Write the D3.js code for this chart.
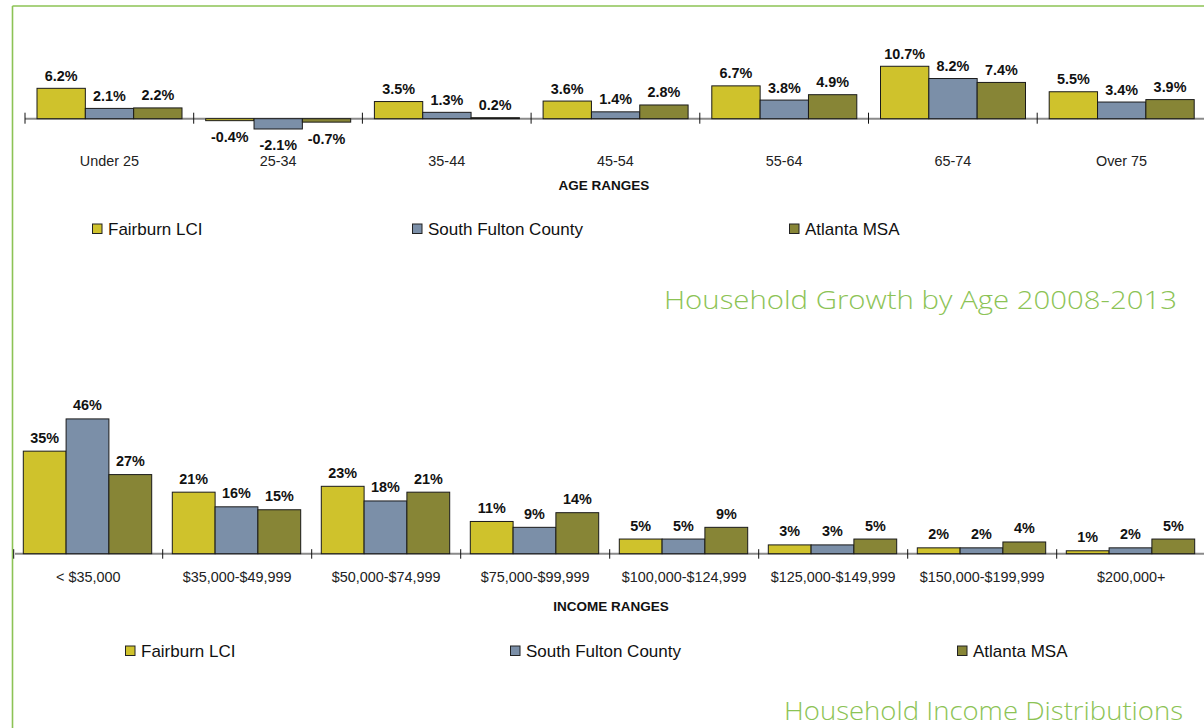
<!DOCTYPE html>
<html>
<head>
<meta charset="utf-8">
<script src="https://cdn.jsdelivr.net/npm/d3@7"></script>
<style>
  html, body { margin: 0; padding: 0; background: #ffffff; }
  svg { display: block; }
</style>
</head>
<body>
<svg id="chart" width="1204" height="728"></svg>
<script>
// ---- Data ----
const seriesNames = ["Fairburn LCI", "South Fulton County", "Atlanta MSA"];
const seriesColors = ["#CFC22C", "#7B8FA8", "#878536"];

const ageCategories = ["Under 25", "25-34", "35-44", "45-54", "55-64", "65-74", "Over 75"];
const ageFairburn    = [6.2, -0.4, 3.5, 3.6, 6.7, 10.7, 5.5];
const ageSouthFulton = [2.1, -2.1, 1.3, 1.4, 3.8, 8.2, 3.4];
const ageAtlanta     = [2.2, -0.7, 0.2, 2.8, 4.9, 7.4, 3.9];

const incomeCategories = ["< $35,000", "$35,000-$49,999", "$50,000-$74,999", "$75,000-$99,999",
  "$100,000-$124,999", "$125,000-$149,999", "$150,000-$199,999", "$200,000+"];
const incomeFairburn    = [35, 21, 23, 11, 5, 3, 2, 1];
const incomeSouthFulton = [46, 16, 18, 9, 5, 3, 2, 2];
const incomeAtlanta     = [27, 15, 21, 14, 9, 5, 4, 5];

const ageTitle = "Household Growth by Age 20008-2013";
const incomeTitle = "Household Income Distributions";

const svg = d3.select("#chart");
const labelFont = "'Liberation Sans', Arial, sans-serif";
const green = "#8CC355";

// Frame lines along top and left edges
svg.append("line").attr("x1", 12.5).attr("x2", 1204).attr("y1", 6).attr("y2", 6)
  .attr("stroke", green).attr("stroke-width", 1.6);
svg.append("line").attr("x1", 12.5).attr("x2", 12.5).attr("y1", 6).attr("y2", 728)
  .attr("stroke", green).attr("stroke-width", 1.6);

function drawGroupedBars(cfg) {
  const g = svg.append("g");
  const rows = cfg.categories.map((c, i) => ({
    cat: c,
    vals: cfg.series.map((s, j) => ({ key: seriesNames[j], idx: j, v: s[i] }))
  }));

  const x0 = d3.scaleBand().domain(cfg.categories).range(cfg.xRange).padding(0);
  const x1 = d3.scaleBand().domain(seriesNames).range(cfg.innerRange).padding(0);
  const y = d3.scaleLinear().domain(cfg.yDomain).range(cfg.yRange);
  const y0 = y(0);

  // Category axis line with ticks between groups
  g.append("line")
    .attr("x1", cfg.axisStart).attr("x2", 1204)
    .attr("y1", y0).attr("y2", y0)
    .attr("stroke", "#8a8a8a").attr("stroke-width", 2);

  const tickPos = cfg.categories.map(c => x0(c)).concat([x0.range()[1]]);
  g.selectAll(".tick").data(tickPos).join("line")
    .attr("x1", d => d).attr("x2", d => d)
    .attr("y1", y0 + cfg.tickUp).attr("y2", y0 + cfg.tickDown)
    .attr("stroke", "#111").attr("stroke-width", 1);

  const groups = g.selectAll(".grp").data(rows).join("g")
    .attr("transform", d => `translate(${x0(d.cat)},0)`);

  groups.selectAll("rect").data(d => d.vals).join("rect")
    .attr("x", d => x1(d.key))
    .attr("width", x1.bandwidth())
    .attr("y", d => Math.min(y(d.v), y0))
    .attr("height", d => Math.abs(y(d.v) - y0))
    .attr("fill", d => seriesColors[d.idx])
    .attr("stroke", "#1a1a1a").attr("stroke-width", 1);

  groups.selectAll("text.val").data(d => d.vals).join("text")
    .attr("class", "val")
    .attr("x", d => x1(d.key) + x1.bandwidth() / 2)
    .attr("y", d => d.v >= 0 ? y(d.v) - cfg.labelAbove : y(d.v) + cfg.labelBelow)
    .attr("text-anchor", "middle")
    .attr("font-family", labelFont).attr("font-weight", "bold")
    .attr("font-size", 14.4).attr("fill", "#111")
    .text(d => cfg.fmt(d.v));

  g.selectAll("text.cat").data(cfg.categories).join("text")
    .attr("class", "cat")
    .attr("x", d => x0(d) + x0.bandwidth() / 2)
    .attr("y", cfg.catY)
    .attr("text-anchor", "middle")
    .attr("font-family", labelFont).attr("font-size", 14.4).attr("fill", "#222")
    .text(d => d);

  g.append("text")
    .attr("x", cfg.axisTitleX).attr("y", cfg.axisTitleY)
    .attr("text-anchor", "middle")
    .attr("font-family", labelFont).attr("font-weight", "bold")
    .attr("font-size", 13.5).attr("fill", "#111")
    .text(cfg.axisTitle);

  // Legend
  const lg = g.selectAll(".leg").data(seriesNames).join("g")
    .attr("transform", (d, i) => `translate(${cfg.legendX[i]},${cfg.legendY})`);
  lg.append("rect").attr("x", 0.5).attr("y", -11).attr("width", 9.5).attr("height", 9.5)
    .attr("fill", (d, i) => seriesColors[i]).attr("stroke", "#222").attr("stroke-width", 1);
  lg.append("text").attr("x", 16).attr("y", 0)
    .attr("font-family", labelFont).attr("font-size", 17).attr("fill", "#111")
    .text(d => d);

  // Section title
  svg.append("text")
    .attr("x", cfg.titleRight).attr("y", cfg.titleY)
    .attr("text-anchor", "end")
    .attr("font-family", "'Open Sans', 'Noto Sans', sans-serif")
    .attr("font-weight", 300)
    .attr("font-size", 26.5).attr("fill", green)
    .attr("textLength", cfg.titleWidth).attr("lengthAdjust", "spacingAndGlyphs")
    .text(cfg.title);
}

drawGroupedBars({
  categories: ageCategories,
  series: [ageFairburn, ageSouthFulton, ageAtlanta],
  xRange: [25, 25 + 7 * 168.7],
  innerRange: [12, 157],
  yDomain: [0, 10],
  yRange: [118.7, 118.7 - 49],
  axisStart: 25,
  tickUp: -6, tickDown: 5,
  labelAbove: 7.5, labelBelow: 21.5,
  fmt: v => v.toFixed(1) + "%",
  catY: 166,
  axisTitle: "AGE RANGES", axisTitleX: 604, axisTitleY: 190,
  legendX: [92, 412, 789], legendY: 235,
  title: ageTitle, titleRight: 1177, titleY: 309, titleWidth: 513
});

drawGroupedBars({
  categories: incomeCategories,
  series: [incomeFairburn, incomeSouthFulton, incomeAtlanta],
  xRange: [13.7, 13.7 + 8 * 149],
  innerRange: [9.6, 138],
  yDomain: [0, 10],
  yRange: [553.7, 553.7 - 29.3],
  axisStart: 15,
  tickUp: -4.5, tickDown: 5,
  labelAbove: 8.5, labelBelow: 20,
  fmt: v => d3.format(".0f")(v) + "%",
  catY: 581.7,
  axisTitle: "INCOME RANGES", axisTitleX: 611, axisTitleY: 611,
  legendX: [125, 510, 957], legendY: 657,
  title: incomeTitle, titleRight: 1183, titleY: 719.5, titleWidth: 399
});
</script>
</body>
</html>
